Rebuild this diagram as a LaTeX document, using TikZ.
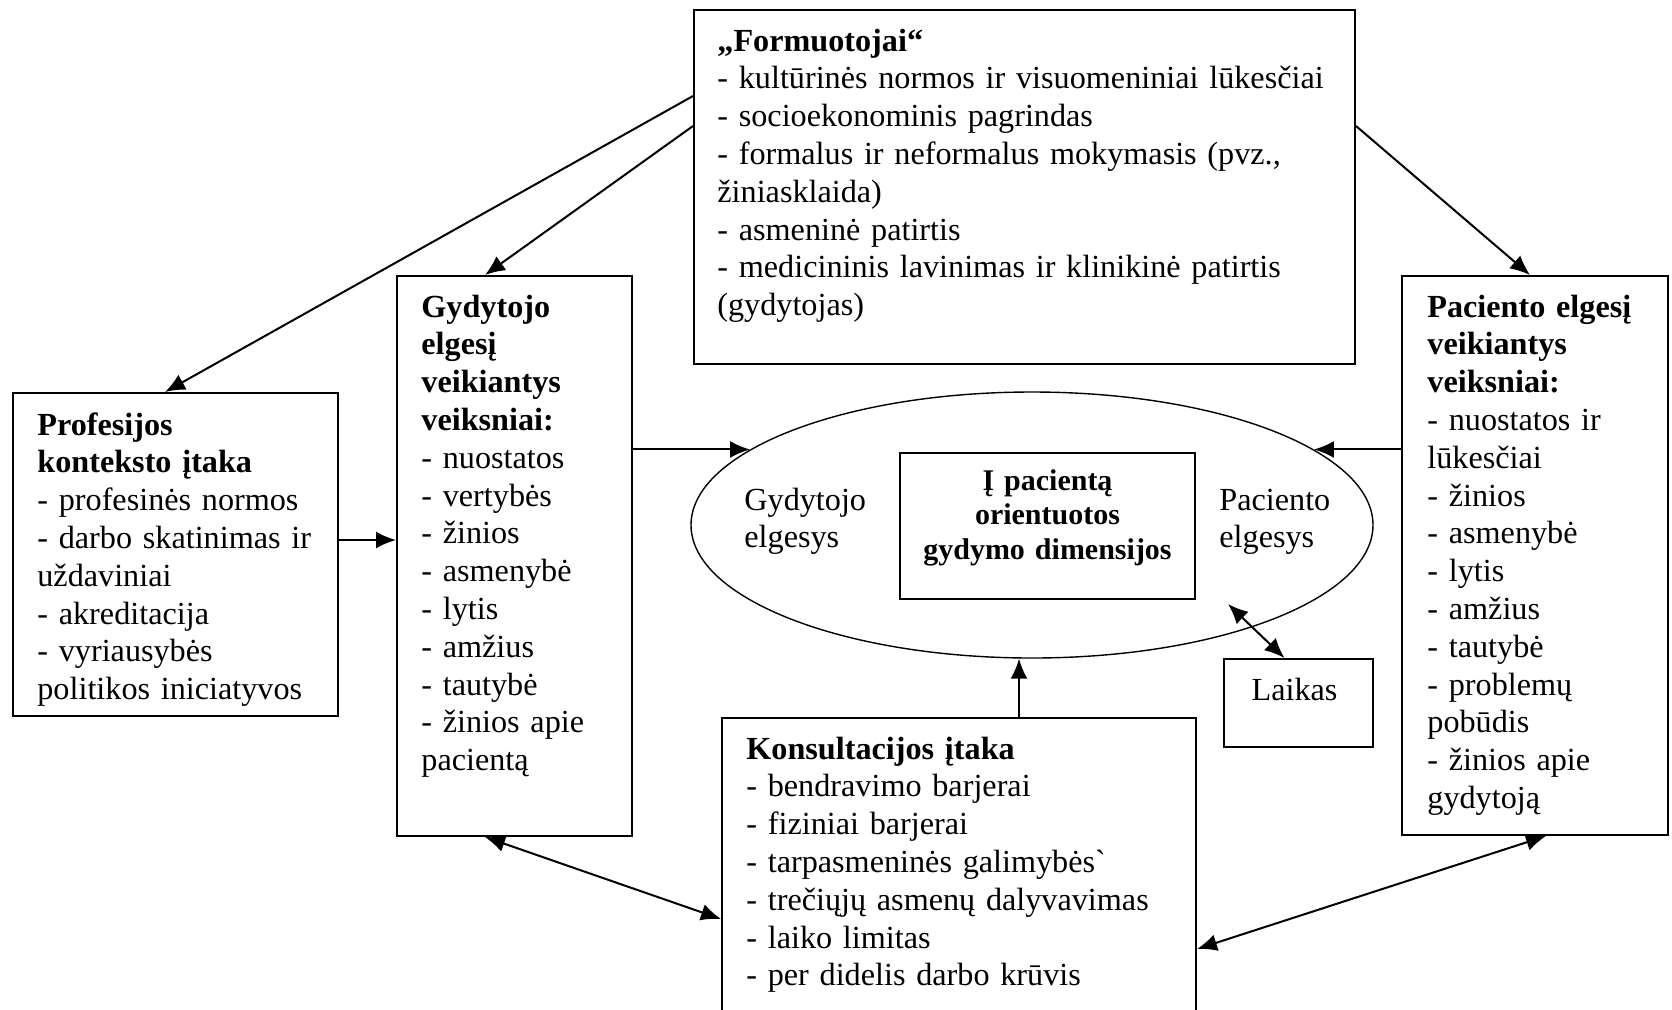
\documentclass[tikz,border=0pt]{standalone}
\usepackage{fontspec}
\setmainfont{Liberation Serif}
\usetikzlibrary{arrows.meta,shapes.geometric,positioning}
\tikzset{
	box/.style={
		rectangle,
		draw=black, line width=1pt,
		inner sep=0pt,
		anchor=north west,
	},
	txt/.style={
		inner sep=0pt,
		anchor=base west,
		align=left,
		text width=#1,
		font=\fontsize{16.1}{18.9}\selectfont,
	},
	txt/.default=300pt,
	arr/.style={line width=1pt, -{Latex[length=10pt,width=8.5pt]}},
	dbl/.style={line width=1pt, {Latex[length=10pt,width=8.5pt]}-{Latex[length=10pt,width=8.5pt]}},
}

\begin{document}
\begin{tikzpicture}[x=0.5pt, y=-0.5pt]
\useasboundingbox (0,0) rectangle (1672,1009);
\clip (0,0) rectangle (1672,1009);

\node	(form)		[box, minimum width=330.5pt, minimum height=177pt]	at (693,9)	{};
\node	(gyd)		[box, minimum width=117.5pt, minimum height=280pt]	at (396,275)	{};
\node	(prof)		[box, minimum width=162.5pt, minimum height=161.5pt]	at (12,392)	{};
\node	(pac)		[box, minimum width=133pt, minimum height=279.5pt]	at (1401,275)	{};
\node	(konsult)	[box, minimum width=237pt, minimum height=155pt]	at (721,717)	{};
\node	(behav)		[ellipse, draw, line width=0.7pt, minimum width=341pt, minimum height=133pt, inner sep=0pt]	at (1032,525)	{};
\node	(dim)		[box, minimum width=147.5pt, minimum height=73pt]	at (899,452)	{};
\node	(laikas)	[box, minimum width=74.5pt, minimum height=44pt]	at (1223,658)	{};

\node	(formtxt)	[txt=325pt]	at ([shift={(24,42)}]form.north west)	{\textbf{„Formuotojai“}\\
- kultūrinės normos ir visuomeniniai lūkesčiai\\
- socioekonominis pagrindas\\
- formalus ir neformalus mokymasis (pvz.,\\
žiniasklaida)\\
- asmeninė patirtis\\
- medicininis lavinimas ir klinikinė patirtis\\
(gydytojas)};
\node	(gydtxt)	[txt=110pt]	at ([shift={(25,42)}]gyd.north west)	{{\bfseries Gydytojo\\ elgesį\\ veikiantys\\ veiksniai:}\\
- nuostatos\\
- vertybės\\
- žinios\\
- asmenybė\\
- lytis\\
- amžius\\
- tautybė\\
- žinios apie\\
pacientą};
\node	(proftxt)	[txt=160pt]	at ([shift={(25,43)}]prof.north west)	{{\bfseries Profesijos\\ konteksto įtaka}\\
- profesinės normos\\
- darbo skatinimas ir\\
uždaviniai\\
- akreditacija\\
- vyriausybės\\
politikos iniciatyvos};
\node	(pactxt)	[txt=125pt]	at ([shift={(26,42)}]pac.north west)	{{\bfseries Paciento elgesį\\ veikiantys\\ veiksniai:}\\
- nuostatos ir\\
lūkesčiai\\
- žinios\\
- asmenybė\\
- lytis\\
- amžius\\
- tautybė\\
- problemų\\
pobūdis\\
- žinios apie\\
gydytoją};
\node	(konstxt)	[txt=220pt]	at ([shift={(25,42)}]konsult.north west)	{\textbf{Konsultacijos įtaka}\\
- bendravimo barjerai\\
- fiziniai barjerai\\
- tarpasmeninės galimybės\textasciigrave\\
- trečiųjų asmenų dalyvavimas\\
- laiko limitas\\
- per didelis darbo krūvis};
\node	(dimtxt)	[inner sep=0pt, anchor=base, align=center, text width=140pt, font=\bfseries\fontsize{15}{17.4}\selectfont]	at ([shift={(0,38)}]dim.north)	{Į pacientą\\ orientuotos\\ gydymo dimensijos};
\node	(laitxt)	[inner sep=0pt, anchor=base, font=\fontsize{16.1}{18.9}\selectfont]	at ([shift={(-4,42)}]laikas.north)	{Laikas};
\node	(gydbeh)	[txt=80pt]	at (744,510)	{Gydytojo\\ elgesys};
\node	(pacbeh)	[txt=80pt]	at (1219,510)	{Paciento\\ elgesys};

\coordinate	(kup)	at ([shift={(60,0)}]konsult.north);

\path[arr] ([shift={(0,87)}]form.north west) edge ([shift={(153,0)}]prof.north west);
\path[arr] ([shift={(0,117)}]form.north west) edge ([shift={(89,0)}]gyd.north west);
\path[arr] ([shift={(0,117)}]form.north east) edge ([shift={(129,0)}]pac.north west);
\path[arr] ([shift={(0,148)}]prof.north east) edge ([shift={(0,265)}]gyd.north west);
\path[arr] (gyd.east |- behav.165) edge (behav.165);
\path[arr] (pac.west |- behav.15) edge (behav.15);
\path[arr] (kup) edge (kup |- behav.south);
\path[dbl] ([shift={(-14,0)}]laikas.north) edge ([shift={(32,4)}]dim.south east);
\path[dbl] ([shift={(89,0)}]gyd.south west) edge ([shift={(0,202)}]konsult.north west);
\path[dbl] ([shift={(145,0)}]pac.south west) edge ([shift={(0,232)}]konsult.north east);

\end{tikzpicture}
\end{document}
